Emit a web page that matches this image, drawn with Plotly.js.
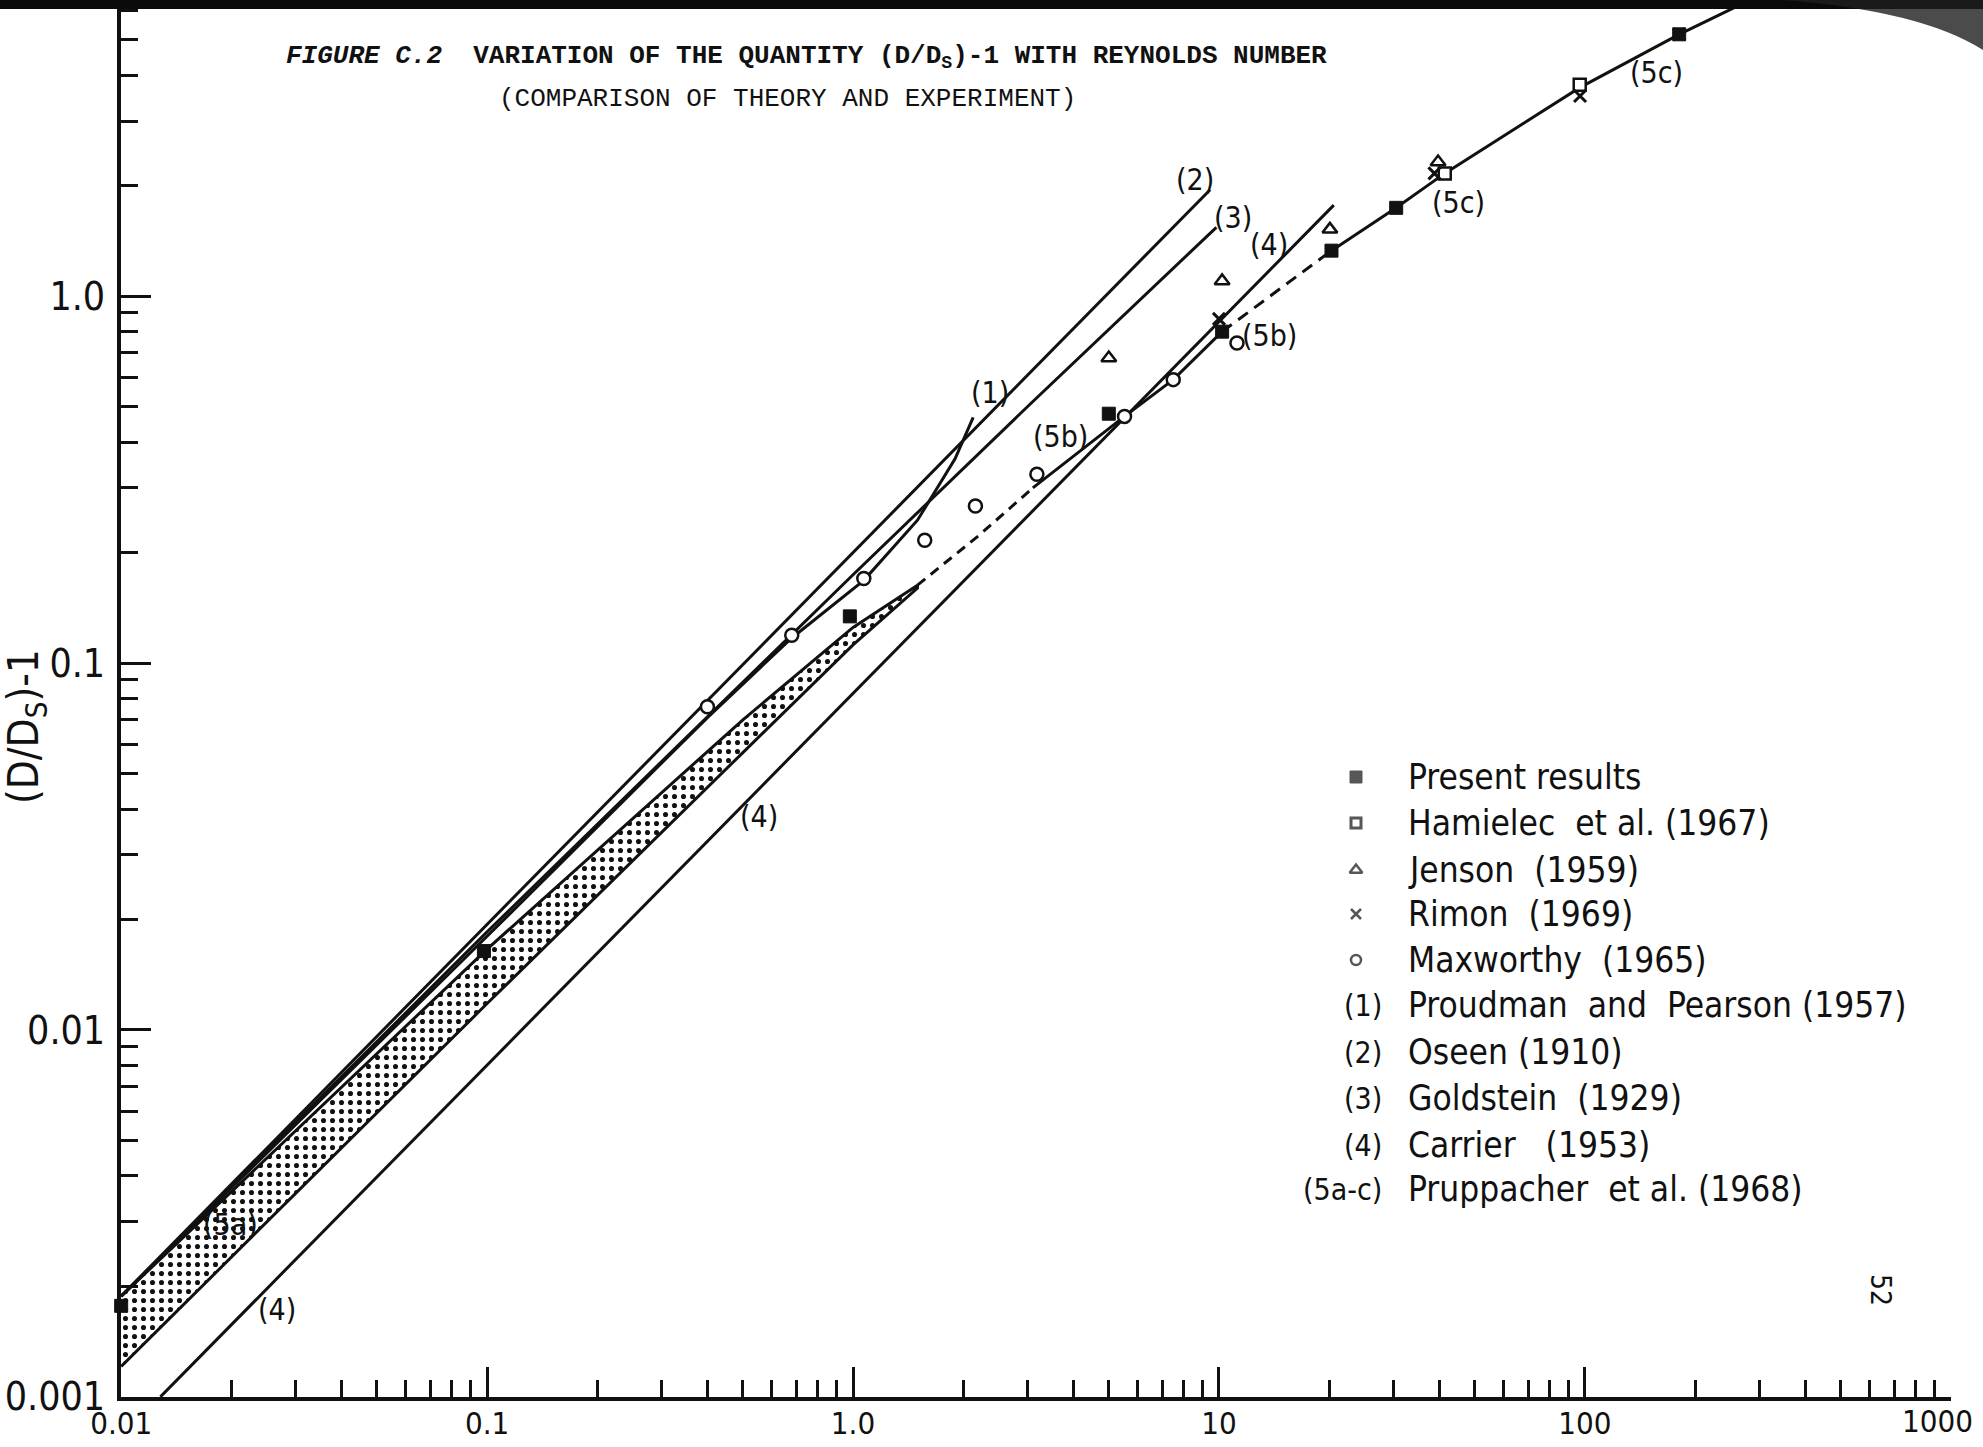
<!DOCTYPE html>
<html>
<head>
<meta charset="utf-8">
<script src="https://cdn.plot.ly/plotly-3.0.1.min.js"></script>
<style>
  html, body { margin: 0; padding: 0; background: #ffffff; }
  #chart { width: 1983px; height: 1447px; }
</style>
</head>
<body>
<div id="chart"></div>
<script>
// ---------- axis ticks ----------
const reTicks = [0.01, 0.1, 1, 10, 100, 1000];
const reTickText = ['0.01', '0.1', '1.0', '10', '100', '1000'];
const valTicks = [0.001, 0.01, 0.1, 1];
const valTickText = ['0.001', '0.01', '0.1', '1.0'];

// ---------- measured points ----------
const presentRe  = [0.01, 0.098, 0.98, 5.0, 10.2, 20.3, 30.5, 181];
const presentVal = [0.00177, 0.0164, 0.134, 0.478, 0.80, 1.33, 1.74, 5.17];

const hamielecRe  = [41.4, 96.8];
const hamielecVal = [2.16, 3.77];

const jensonRe  = [5.0, 10.2, 20.1, 39.7];
const jensonVal = [0.678, 1.10, 1.52, 2.32];

const rimonRe  = [10.0, 38.8, 97.0, 181];
const rimonVal = [0.867, 2.16, 3.51, 5.17];

const maxworthyRe  = [0.40, 0.68, 1.07, 1.57, 2.16, 3.18, 5.52, 7.5, 11.2];
const maxworthyVal = [0.076, 0.119, 0.170, 0.216, 0.268, 0.327, 0.470, 0.592, 0.745];

// ---------- theory curves ----------
const proudmanRe  = [0.01, 0.1, 0.4, 0.68, 1.07, 1.5, 1.9, 2.13];        // (1)
const proudmanVal = [0.00188, 0.0180, 0.071, 0.117, 0.168, 0.245, 0.36, 0.467];

const oseenRe  = [0.01, 9.46];                                          // (2)
const oseenVal = [0.00188, 1.95];

const goldsteinRe  = [0.01, 0.1, 1.0, 3.0, 9.84];                       // (3)
const goldsteinVal = [0.00188, 0.0185, 0.174, 0.50, 1.54];

const carrierRe  = [0.0128, 20.6];                                      // (4)
const carrierVal = [0.001, 1.77];

// (5a) band limits
const bandUpperRe  = [0.01, 0.1, 0.5, 1.0, 1.5];
const bandUpperVal = [0.00188, 0.0166, 0.070, 0.125, 0.163];
const bandLowerRe  = [0.01, 0.1, 0.5, 1.0, 1.5];
const bandLowerVal = [0.00121, 0.0118, 0.057, 0.112, 0.160];

// (5b) and (5c)
const p5bDashRe  = [1.5, 2.2, 3.1];
const p5bDashVal = [0.163, 0.222, 0.300];
const p5bRe  = [3.1, 5.52, 7.5, 10.2];
const p5bVal = [0.300, 0.470, 0.592, 0.80];
const p5bcDashRe  = [10.2, 20.3];
const p5bcDashVal = [0.80, 1.33];
const p5cRe  = [20.3, 30.5, 41.4, 96.8, 181, 300];
const p5cVal = [1.33, 1.74, 2.16, 3.70, 5.17, 6.6];

// ---------- legend entries ----------
const legendKeys = ['', '', '', '', '', '(1)', '(2)', '(3)', '(4)', '(5a-c)'];
const legendNames = [
  'Present results',
  'Hamielec  et al. (1967)',
  'Jenson  (1959)',
  'Rimon  (1969)',
  'Maxworthy  (1965)',
  'Proudman  and  Pearson (1957)',
  'Oseen (1910)',
  'Goldstein  (1929)',
  'Carrier   (1953)',
  'Pruppacher  et al. (1968)'
];

// ---------- page geometry (pixels) ----------
const W = 1983, H = 1447;
const PL = 121, PR = 1951, PT = 0, PB = 1397;
const px = X => (X - PL) / (PR - PL);
const py = Y => (PB - Y) / (PB - PT);

const INK = '#111111';
const NARROW = '"Liberation Sans Narrow", "DejaVu Sans Condensed", "Open Sans", sans-serif';
const MONO = '"Liberation Mono", "DejaVu Sans Mono", monospace';

function minorTicks(lo, hi) {
  const out = [];
  for (let d = lo; d <= hi; d++) {
    for (let m = 2; m <= 9; m++) out.push(m * Math.pow(10, d));
  }
  return out;
}

function curve(x, y, dash, width) {
  return {
    type: 'scatter', mode: 'lines', x: x, y: y, showlegend: false, hoverinfo: 'skip',
    line: { color: INK, width: width || 3, dash: dash || 'solid' }
  };
}

function points(x, y, symbol, size, fill, lw) {
  return {
    type: 'scatter', mode: 'markers', x: x, y: y, showlegend: false, cliponaxis: false,
    marker: { symbol: symbol, size: size, color: fill, line: { color: INK, width: lw } }
  };
}

const traces = [];

// dotted (5a) band
traces.push({
  type: 'scatter', mode: 'lines', showlegend: false, hoverinfo: 'skip',
  x: bandUpperRe.concat(bandLowerRe.slice().reverse()),
  y: bandUpperVal.concat(bandLowerVal.slice().reverse()),
  fill: 'toself', fillcolor: 'rgba(0,0,0,0)',
  fillpattern: { shape: '.', size: 9, solidity: 0.25, fgcolor: INK, bgcolor: '#ffffff' },
  line: { color: INK, width: 3 }
});

traces.push(curve(proudmanRe, proudmanVal));
traces.push(curve(oseenRe, oseenVal));
traces.push(curve(goldsteinRe, goldsteinVal));
traces.push(curve(carrierRe, carrierVal));
traces.push(curve(p5bDashRe, p5bDashVal, '10px,7px'));
traces.push(curve(p5bRe, p5bVal));
traces.push(curve(p5bcDashRe, p5bcDashVal, '12px,8px'));
traces.push(curve(p5cRe, p5cVal));

traces.push(points(maxworthyRe, maxworthyVal, 'circle', 13, '#ffffff', 2.5));
traces.push(points(jensonRe, jensonVal, 'triangle-up', 13, '#ffffff', 2.5));
traces.push(points(hamielecRe, hamielecVal, 'square', 12, '#ffffff', 2.5));
traces.push(points(presentRe, presentVal, 'square', 13, INK, 1));
traces.push(points(rimonRe, rimonVal, 'x-thin', 12, INK, 3));

// legend symbols, placed on an overlay axis pair in page fractions
const legendRowY = [777, 823, 870, 914, 960, 1005, 1052, 1098, 1145, 1189];
const legendSymbols = ['square', 'square', 'triangle-up', 'x-thin', 'circle'];
const legendFills = [INK, '#ffffff', '#ffffff', INK, '#ffffff'];
traces.push({
  type: 'scatter', mode: 'markers', xaxis: 'x2', yaxis: 'y2', showlegend: false, hoverinfo: 'skip',
  x: legendSymbols.map(() => px(1356)),
  y: legendRowY.slice(0, 5).map(py),
  marker: {
    symbol: legendSymbols, size: [12, 10, 11, 10, 10], color: legendFills,
    line: { color: INK, width: [1, 3, 2.5, 2.5, 2.5] }
  }
});

const annotations = [];

// title
annotations.push({
  xref: 'paper', yref: 'paper', x: px(806), y: py(57), xanchor: 'center', yanchor: 'middle',
  showarrow: false,
  text: '<b><i>FIGURE C.2</i>  VARIATION OF THE QUANTITY (D/D<sub>S</sub>)-1 WITH REYNOLDS NUMBER</b>',
  font: { family: MONO, size: 26, color: INK }
});
annotations.push({
  xref: 'paper', yref: 'paper', x: px(787), y: py(99), xanchor: 'center', yanchor: 'middle',
  showarrow: false,
  text: '(COMPARISON OF THEORY AND EXPERIMENT)',
  font: { family: MONO, size: 26, color: INK }
});

// y axis title
annotations.push({
  xref: 'paper', yref: 'paper', x: px(26), y: py(727), xanchor: 'center', yanchor: 'middle',
  showarrow: false, textangle: -90,
  text: '(D/D<sub>S</sub>)-1',
  font: { family: NARROW, size: 42, color: INK }
});

// last x tick label sits just inside the right edge of the sheet
annotations.push({
  xref: 'paper', yref: 'paper', x: px(1975), y: py(1421), xanchor: 'right', yanchor: 'middle',
  showarrow: false, text: reTickText[reTickText.length - 1],
  font: { family: NARROW, size: 31, color: INK }
});

// curve labels (log10 data units)
const curveLabels = [
  ['(2)', 0.934, 0.317], ['(3)', 1.038, 0.214], ['(4)', 1.136, 0.141],
  ['(1)', 0.373, -0.262], ['(5b)', 0.568, -0.383], ['(5b)', 1.139, -0.107],
  ['(5c)', 1.655, 0.255], ['(5c)', 2.195, 0.610], ['(4)', -0.258, -1.417],
  ['(5a)', -1.700, -2.531], ['(4)', -1.575, -2.762]
];
curveLabels.forEach(([t, lx, ly]) => annotations.push({
  xref: 'x', yref: 'y', x: lx, y: ly, xanchor: 'center', yanchor: 'middle', showarrow: false,
  text: t, font: { family: NARROW, size: 30, color: INK }
}));

// legend text
legendNames.forEach((name, i) => {
  annotations.push({
    xref: 'paper', yref: 'paper', x: px(1406), y: py(legendRowY[i]), xanchor: 'left', yanchor: 'middle',
    showarrow: false, text: name, font: { family: NARROW, size: 35, color: INK }
  });
  if (legendKeys[i]) {
    annotations.push({
      xref: 'paper', yref: 'paper', x: px(1384), y: py(legendRowY[i]), xanchor: 'right', yanchor: 'middle',
      showarrow: false, text: legendKeys[i], font: { family: NARROW, size: 30, color: INK }
    });
  }
});

// page number
annotations.push({
  xref: 'paper', yref: 'paper', x: px(1881), y: py(1290), xanchor: 'center', yanchor: 'middle',
  showarrow: false, textangle: 90, text: '52', font: { family: NARROW, size: 28, color: INK }
});

const axisCommon = {
  type: 'log', showline: true, linewidth: 4, linecolor: INK, mirror: false,
  showgrid: false, zeroline: false, ticks: 'inside', ticklen: 30, tickwidth: 3, tickcolor: INK,
  tickmode: 'array', ticklabeloverflow: 'allow'
};

// the 1000 tick keeps its mark; its label is the annotation above
const xTickText = reTickText.map((t, i) => (i === reTickText.length - 1 ? '' : t));

const layout = {
  width: W, height: H,
  margin: { l: PL, r: W - PR, t: PT, b: H - PB, pad: 0 },
  paper_bgcolor: '#ffffff', plot_bgcolor: '#ffffff',
  showlegend: false,
  xaxis: Object.assign({}, axisCommon, {
    range: [-2.0005, 3.0005], tickvals: reTicks, ticktext: xTickText, ticklabelstandoff: -4,
    tickfont: { family: NARROW, size: 31, color: INK },
    minor: { tickmode: 'array', tickvals: minorTicks(-2, 2), ticks: 'inside', ticklen: 17, tickwidth: 3, tickcolor: INK, showgrid: false }
  }),
  yaxis: Object.assign({}, axisCommon, {
    range: [-3.0005, 0.807], tickvals: valTicks, ticktext: valTickText, ticklabelstandoff: 4,
    tickfont: { family: NARROW, size: 39, color: INK },
    minor: { tickmode: 'array', tickvals: minorTicks(-3, 0), ticks: 'inside', ticklen: 17, tickwidth: 3, tickcolor: INK, showgrid: false }
  }),
  xaxis2: { overlaying: 'x', anchor: 'y2', range: [0, 1], visible: false, fixedrange: true },
  yaxis2: { overlaying: 'y', anchor: 'x2', range: [0, 1], visible: false, fixedrange: true },
  annotations: annotations,
  shapes: [
    // dark top edge of the sheet
    { type: 'rect', xref: 'paper', yref: 'paper', x0: px(0) - 0.01, x1: px(W) + 0.01, y0: py(9), y1: py(-10),
      fillcolor: '#0a0a0a', line: { width: 0 }, layer: 'above' },
    { type: 'path', xref: 'paper', yref: 'paper', layer: 'above', line: { width: 0 }, fillcolor: 'rgba(30,30,30,0.8)',
      path: `M ${px(1780)} ${py(0)} Q ${px(1920)} ${py(10)} ${px(1983)} ${py(50)} L ${px(1990)} ${py(-5)} Z` }
  ]
};

Plotly.newPlot('chart', traces, layout, { staticPlot: true, displayModeBar: false });
</script>
</body>
</html>
